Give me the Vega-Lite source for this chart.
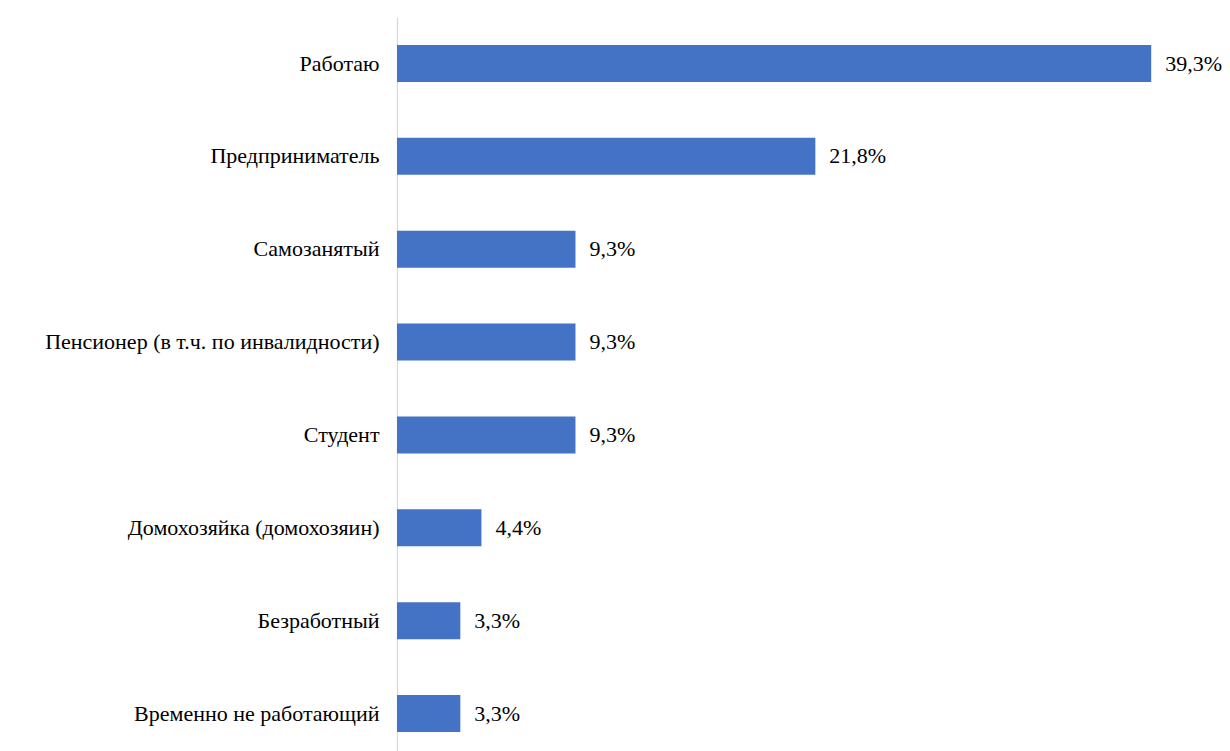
{
  "$schema": "https://vega.github.io/schema/vega-lite/v6.json",
  "width": 830,
  "height": 734,
  "autosize": {"type": "none"},
  "padding": {"left": 397, "top": 17, "right": 0, "bottom": 0},
  "background": "white",
  "config": {"view": {"stroke": null}, "font": "'Liberation Serif', 'DejaVu Serif', serif"},
  "data": {
    "values": [
      {"cat": "Работаю", "v": 39.3, "label": "39,3%"},
      {"cat": "Предприниматель", "v": 21.8, "label": "21,8%"},
      {"cat": "Самозанятый", "v": 9.3, "label": "9,3%"},
      {"cat": "Пенсионер (в т.ч. по инвалидности)", "v": 9.3, "label": "9,3%"},
      {"cat": "Студент", "v": 9.3, "label": "9,3%"},
      {"cat": "Домохозяйка (домохозяин)", "v": 4.4, "label": "4,4%"},
      {"cat": "Безработный", "v": 3.3, "label": "3,3%"},
      {"cat": "Временно не работающий", "v": 3.3, "label": "3,3%"}
    ]
  },
  "encoding": {
    "y": {
      "field": "cat",
      "type": "nominal",
      "sort": null,
      "scale": {"paddingInner": 0.6016, "paddingOuter": 0.253, "align": 0.596},
      "axis": {
        "title": null,
        "ticks": false,
        "domainColor": "#d9d9d9",
        "domainWidth": 1.3,
        "labelFont": "'Liberation Serif', 'DejaVu Serif', serif",
        "labelFontSize": 22,
        "labelColor": "#000000",
        "labelPadding": 18,
        "labelLimit": 0
      }
    },
    "x": {
      "field": "v",
      "type": "quantitative",
      "scale": {"domain": [0, 43.25]},
      "axis": null
    }
  },
  "layer": [
    {"mark": {"type": "bar", "color": "#4472C4"}},
    {
      "mark": {"type": "text", "align": "left", "baseline": "middle", "dx": 14, "font": "'Liberation Serif', 'DejaVu Serif', serif", "fontSize": 22, "color": "#000000"},
      "encoding": {"text": {"field": "label"}}
    }
  ]
}
